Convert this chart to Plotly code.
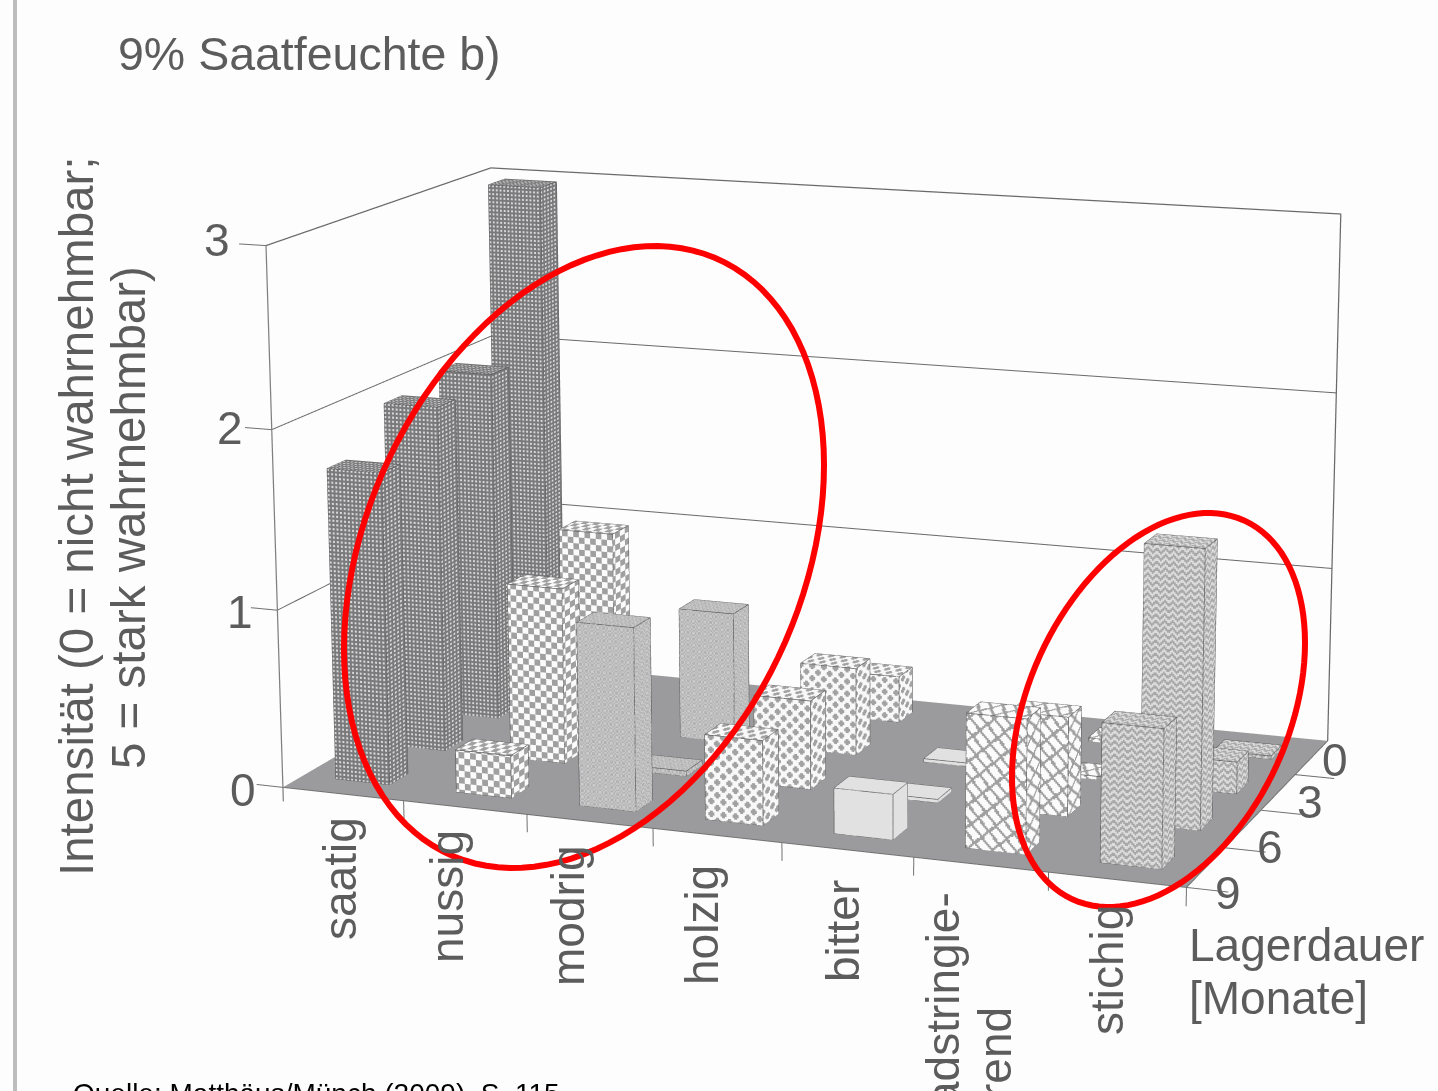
import numpy as np, math
import plotly.graph_objects as go

W, PAGE_H = 1438, 1091
categories = ["saatig", "nussig", "modrig", "holzig", "bitter", "adstringie-", "rend", "stichig"]
months = ["0", "3", "6", "9"]
z_ticks = ["0", "1", "2", "3"]
# values per storage month 0, 3, 6, 9
saatig = [2.98, 2.02, 1.97, 1.75]
nussig = [0.0, 1.15, 1.0, 0.24]
modrig = [0.0, 0.75, 0.03, 1.02]
holzig = [0.27, 0.5, 0.5, 0.47]
bitter = [0.0, 0.02, 0.02, 0.25]
adstr = [0.02, 0.02, 0.55, 0.73]
stichig = [0.02, 0.18, 1.53, 0.75]
series = [saatig, nussig, modrig, holzig, bitter, adstr, stichig]
dark = ["#7a7a7c", "#a0a0a0", "#b2b2b2", "#a2a2a2", "#dcdcdc", "#a0a0a0", "#a8a8a8"]
light = ["#d8d8d8", "#fbfbfb", "#cacaca", "#f8f8f8", "#e6e6e6", "#fbfbfb", "#dcdcdc"]
pattern = ["weave", "dots", "fine", "holes", "flat", "slash", "zig"]

# camera, long lens: the 45 degree view is spread over a tall canvas
E = np.array([3.072, -8.164, 2.0]); C = np.array([-0.108, -0.229, -0.049])
AX, AY, AZ = 1.85, 1.039, 1.085
UP = dict(x=-0.061, y=0.173, z=1)
FOCAL = 4518.114
H = int(round(2*FOCAL*math.tan(math.pi/8)))
TOP = int(round(H/2-545.5))
XR, YR, ZR = (-0.6, 7.6), (-0.1, 4.1), (-0.2, 3.1)
shift = np.array([(3.5-sum(XR)/2)/7*AX, (2-sum(YR)/2)/4*AY, (1.5-sum(ZR)/2)/3*AZ])
E2, C2 = E+shift, C+shift
asp = dict(x=AX*(XR[1]-XR[0])/7, y=AY*(YR[1]-YR[0])/4, z=AZ*(ZR[1]-ZR[0])/3)

PX = np.array([125.0, 60.0, 170.0])  # rough pixels per data unit

def tex(name, u, v):
    if name == "weave":
        return ((np.floor(u/2) % 2 == 0) & (np.floor(v/2) % 2 == 0)).astype(float)
    if name == "flat":
        return np.full_like(u, .5)
    if name == "fine":
        return ((np.floor(u/2) + np.floor(v/2)) % 2)*1.0
    if name == "zig":
        return (((v + np.abs((u % 8)-4)) % 6) < 3).astype(float)
    if name == "slash":
        a = (u*.75+v*.66) % 9; b = (u*.66-v*.75) % 15
        return ((a > 2.4) & (b > 2.4)).astype(float)
    p = 12.0
    d1 = np.hypot((u % p)-p/2, (v % p)-p/2)
    d2 = np.hypot(((u+p/2) % p)-p/2, ((v+p/2) % p)-p/2)
    d = np.minimum(d1, d2)
    if name == "dots":
        return (d < 3.5).astype(float)
    return (d > 2.4).astype(float)  # holes

def add_face(acc, o, a, b, name):
    o, a, b = map(np.array, (o, a, b))
    la, lb = np.linalg.norm(a*PX), np.linalg.norm(b*PX)
    cell = 2.0 if name == "weave" else 1.5
    na, nb = max(1, int(round(la/cell))), max(1, int(round(lb/cell)))
    if name == "flat":
        na = nb = 1
    s = np.linspace(0, 1, na+1); t = np.linspace(0, 1, nb+1)
    S, T = np.meshgrid(s, t, indexing='ij')
    P = o + S[..., None]*a + T[..., None]*b
    base = acc['n']
    acc['v'].append(P.reshape(-1, 3))
    I, J = np.meshgrid(np.arange(na), np.arange(nb), indexing='ij')
    v00 = base + I*(nb+1)+J; v10 = v00+nb+1; v01 = v00+1; v11 = v10+1
    acc['f'].append(np.c_[v00.ravel(), v10.ravel(), v11.ravel()])
    acc['f'].append(np.c_[v00.ravel(), v11.ravel(), v01.ravel()])
    uu = (I+.5)*cell; vv = (J+.5)*cell
    val = tex(name, uu, vv).ravel()
    acc['c'].append(val); acc['c'].append(val)
    acc['n'] += (na+1)*(nb+1)

BW, BD = 0.45, 0.32
fig = go.Figure()
# floor
fig.add_trace(go.Mesh3d(x=[0, 7, 7, 0], y=[0, 0, 4, 4], z=[0, 0, 0, 0], i=[0, 0], j=[1, 2], k=[2, 3],
                        color='#9b9b9d', lighting=dict(ambient=1, diffuse=0, specular=0, fresnel=0), flatshading=True, hoverinfo='skip'))
for k, vals in enumerate(series):
    acc = dict(v=[], f=[], c=[], n=0)
    lx, ly, lz = [], [], []
    for r, v in enumerate(vals):
        if v <= 0:
            continue
        x0, x1 = k+.5-BW/2, k+.5+BW/2
        y0 = (3-r)+.5-BD/2; y1 = y0+BD
        add_face(acc, (x0, y0, 0), (BW, 0, 0), (0, 0, v), pattern[k])
        add_face(acc, (x1, y0, 0), (0, BD, 0), (0, 0, v), pattern[k])
        add_face(acc, (x0, y0, v), (BW, 0, 0), (0, BD, 0), pattern[k])
        for p, q in [((x0,y0,0),(x1,y0,0)),((x1,y0,0),(x1,y1,0)),((x0,y0,v),(x1,y0,v)),((x1,y0,v),(x1,y1,v)),((x1,y1,v),(x0,y1,v)),((x0,y1,v),(x0,y0,v)),((x0,y0,0),(x0,y0,v)),((x1,y0,0),(x1,y0,v)),((x1,y1,0),(x1,y1,v))]:
            lx += [p[0], q[0], None]; ly += [p[1], q[1], None]; lz += [p[2], q[2], None]
    V = np.vstack(acc['v']); F = np.vstack(acc['f']); Cc = np.concatenate(acc['c'])
    fig.add_trace(go.Mesh3d(x=V[:, 0], y=V[:, 1], z=V[:, 2], i=F[:, 0], j=F[:, 1], k=F[:, 2], intensity=Cc, intensitymode='cell',
                            cmin=0, cmax=1, colorscale=[[0, dark[k]], [1, light[k]]], showscale=False, flatshading=True,
                            lighting=dict(ambient=1, diffuse=0, specular=0, fresnel=0), hoverinfo='skip'))
    fig.add_trace(go.Scatter3d(x=lx, y=ly, z=lz, mode='lines', line=dict(color='#606060', width=1.5), hoverinfo='skip'))

def lines(x, y, z, col='#707070', w=2):
    fig.add_trace(go.Scatter3d(x=x, y=y, z=z, mode='lines', line=dict(color=col, width=w), hoverinfo='skip'))
# walls and gridlines
lines([0, 0, 7, 7], [0, 4, 4, 4], [3, 3, 3, 0], '#6a6a6a', 2.5)
for g in (1, 2):
    lines([0, 0, 7], [0, 4, 4], [g, g, g], '#6a6a6a', 2)
lines([0, 0], [0, 0], [-0.08, 3], '#808080', 2.5)
lines([0, 7, 7], [0, 0, 4], [0, 0, 0], '#707070', 2)
# ticks
for g in range(4):
    lines([-0.22, 0], [0, 0], [g, g], '#707070', 2)
for t in range(1, 8):
    lines([t, t], [0, 0], [0, -0.1], '#707070', 2)
for t in range(4):
    lines([7, 7.3], [t, t], [0, 0], '#707070', 2)

hidden = dict(visible=False, showspikes=False, autorange=False)
fig.update_layout(width=W, height=H, margin=dict(l=0, r=0, t=0, b=0), showlegend=False, paper_bgcolor='#fdfdfd',
    scene=dict(domain=dict(x=[0, 1], y=[0, 1]), aspectmode='manual', aspectratio=asp,
        camera=dict(eye=dict(x=E2[0], y=E2[1], z=E2[2]), center=dict(x=C2[0], y=C2[1], z=C2[2]), up=UP),
        xaxis=dict(range=list(XR), **hidden), yaxis=dict(range=list(YR), **hidden), zaxis=dict(range=list(ZR), **hidden)))

def fx(x): return x/W
def fy(y): return 1-(y+TOP)/H
TXT = '#5c5c5c'
def ann(t, x, y, angle=0, xa='center', size=46, col=TXT):
    fig.add_annotation(xref='paper', yref='paper', x=fx(x), y=fy(y), text=t, textangle=angle, showarrow=False, xanchor=xa, yanchor='middle',
                       font=dict(family='Liberation Sans', size=size, color=col))
ann("9% Saatfeuchte b)", 116, 54, xa='left', size=46.5)
ann("Intensität (0 = nicht wahrnehmbar;", 76, 517, angle=-90, size=47.5)
ann("5 = stark wahrnehmbar)", 128, 518, angle=-90, size=47.5)
for t, x, y in zip(z_ticks, [243, 240, 230, 217], [790, 612, 428, 240]): ann(t, x, y)
for t, x, y in zip(months, [1335, 1310, 1270, 1228], [760, 802, 847, 893]): ann(t, x, y)
for t, x, y in zip(categories, [340, 447, 568, 702, 843, 943, 995, 1107], [879, 897, 916, 925, 931, 1000, 1053, 970]): ann(t, x, y, angle=-90)
ann("Lagerdauer", 1187, 945, xa='left'); ann("[Monate]", 1187, 998, xa='left')
ann("Quelle: Matthäus/Münch (2009), S. 115", 71, 1093, xa='left', size=28, col='#000')
def ell(cx_, cy_, hw, hh, phi):
    t = np.linspace(0, 2*np.pi, 120, endpoint=False)
    x = fx(cx_+hw*np.cos(t)); y = fy(cy_+hh*np.sin(t+phi))
    return 'M'+' L'.join(f'{a:.5f},{b:.5f}' for a, b in zip(x, y))+' Z'
fig.add_shape(type='path', xref='paper', yref='paper', path=ell(584, 557, 240, 311, -0.3), line=dict(color='#f00', width=6))
fig.add_shape(type='path', xref='paper', yref='paper', path=ell(1158.5, 710, 146.5, 197, -0.348), line=dict(color='#f00', width=6))
fig.add_shape(type='rect', xref='paper', yref='paper', x0=fx(13), x1=fx(17), y0=fy(PAGE_H), y1=fy(0), line_width=0, fillcolor='#bdbdbd')
post = ("document.documentElement.style.overflow='hidden';document.body.style.overflow='hidden';document.body.style.margin='0';"
        "var g=document.getElementById('{plot_id}');g.style.position='absolute';g.style.left='0';g.style.top='-%dpx';" % TOP)
fig.write_html("out.html", post_script=post)
